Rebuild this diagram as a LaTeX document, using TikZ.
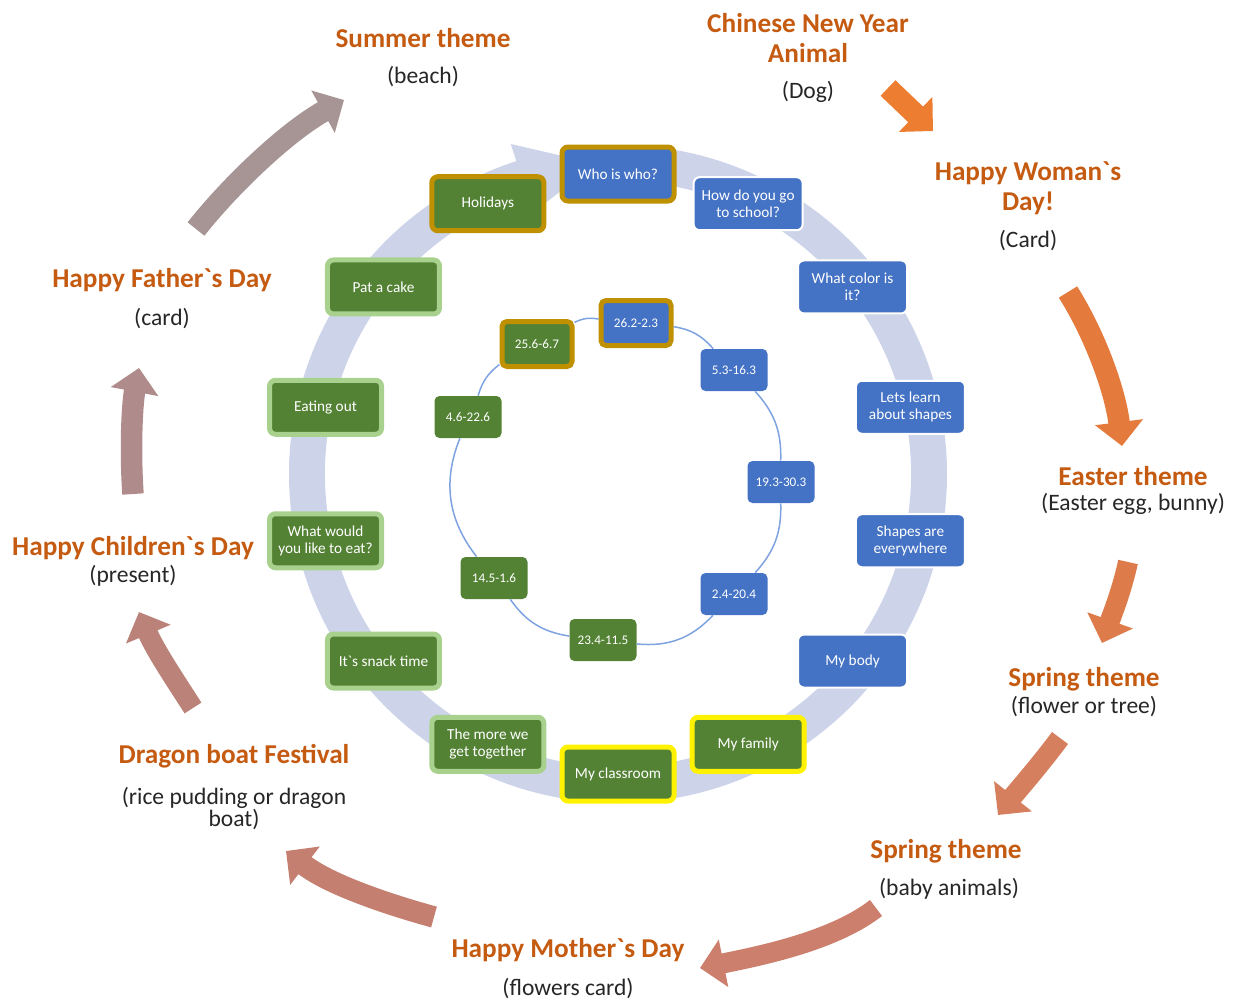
\documentclass[tikz,border=0pt]{standalone}
\usepackage{fontspec}
\setmainfont{Carlito}[Ligatures=TeXOff]
\usetikzlibrary{arrows.meta}

\definecolor{boxblue}{HTML}{4472C4}
\definecolor{boxgreen}{HTML}{548235}
\definecolor{gold}{HTML}{BF9000}
\definecolor{palerim}{HTML}{A9D18E}
\definecolor{ringfill}{HTML}{CDD4EA}
\definecolor{ringline}{HTML}{7EA3E0}
\definecolor{headorange}{HTML}{C55A11}
\definecolor{subgray}{HTML}{262626}
\definecolor{toneA}{HTML}{ED7D31}
\definecolor{toneB}{HTML}{E47B3C}
\definecolor{toneC}{HTML}{DE7B4B}
\definecolor{toneD}{HTML}{D67F5E}
\definecolor{toneE}{HTML}{CC7F6C}
\definecolor{toneF}{HTML}{C47F70}
\definecolor{toneG}{HTML}{BA8279}
\definecolor{toneH}{HTML}{AF8C8B}
\definecolor{toneI}{HTML}{A79595}

\begin{document}
\begin{tikzpicture}[x=0.2mm,y=-0.2mm,
    box/.style={rounded corners=1.2mm, minimum width=21.8mm, minimum height=10.6mm,
        inner sep=1pt, align=center, text=white, font=\fontsize{8.7}{9.8}\selectfont},
    plainblue/.style={box, fill=boxblue, draw=white, line width=0.4mm},
    goldblue/.style={box, fill=boxblue, draw=gold, line width=1mm,
        minimum width=22.4mm, minimum height=10.8mm},
    goldgreen/.style={goldblue, fill=boxgreen},
    palegreen/.style={goldgreen, draw=palerim},
    yellowgreen/.style={goldgreen, draw=yellow},
    small/.style={rounded corners=1mm, minimum width=13.4mm, minimum height=8.4mm,
        inner sep=1pt, text=white, font=\fontsize{7.5}{8}\selectfont},
    sblue/.style={small, fill=boxblue},
    sgreen/.style={small, fill=boxgreen},
    sgoldblue/.style={sblue, draw=gold, line width=1mm, minimum width=14mm, minimum height=9mm},
    sgoldgreen/.style={sgoldblue, fill=boxgreen},
    hd/.style={text=headorange, font=\bfseries\fontsize{15.5}{17}\selectfont, align=center, inner sep=0pt},
    sb/.style={text=subgray, font=\fontsize{13.4}{14.2}\selectfont, align=center, inner sep=0pt},
    cyc/.style={line width=4.3mm, -{Triangle[length=4.8mm,width=9.4mm]}}]

\useasboundingbox (0,0) rectangle (1235,1000);

% big circular arrow
\begin{scope}[shift={(618,474)}]
\fill[ringfill] (-90:329) arc[start angle=-90, end angle=252, radius=329] -- (252:347) -- (266:311)
    -- (252:275) -- (252:293) arc[start angle=252, end angle=-90, radius=293] -- cycle;
\end{scope}

% outer topics
\foreach \k/\sty/\txt in {0/goldblue/{Who is who?}, 1/plainblue/{How do you go\\to school?},
        2/plainblue/{What color is\\it?}, 3/plainblue/{Lets learn\\about shapes},
        4/plainblue/{Shapes are\\everywhere}, 5/plainblue/{My body},
        6/yellowgreen/{My family}, 7/yellowgreen/{My classroom},
        8/palegreen/{The more we\\get together}, 9/palegreen/{It`s snack time},
        10/palegreen/{What would\\you like to eat?}, 11/palegreen/{Eating out},
        12/palegreen/{Pat a cake}, 13/goldgreen/{Holidays}}{
    \pgfmathsetmacro\ang{-90 + \k*360/14};
    \node[\sty] (o\k) at ([shift={(\ang:300)}] 618,474) {\txt};
}

% inner dates
\foreach \n/\sty/\x/\y/\txt in {1/sgoldblue/636/323/26.2-2.3, 2/sblue/734/370/5.3-16.3,
        3/sblue/781/482/19.3-30.3, 4/sblue/734/594/2.4-20.4, 5/sgreen/603/640/23.4-11.5,
        6/sgreen/494/578/14.5-1.6, 7/sgreen/468/417/4.6-22.6, 8/sgoldgreen/537/344/25.6-6.7}
    \node[\sty] (i\n) at (\x,\y) {\txt};

\foreach \a/\b/\bnd in {1/2/20, 2/3/22, 3/4/22, 4/5/26, 5/6/23, 6/7/30, 7/8/18, 8/1/18}
    \draw[ringline, line width=0.3mm] (i\a) to[bend left=\bnd] (i\b);

% themes around
\node[hd] (summer) at (423,38) {Summer theme};
\node[sb] (summersub) at (423,77) {(beach)};
\node[hd] (cny) at (808,38) {Chinese New Year\\Animal};
\node[sb] (cnysub) at (808,92) {(Dog)};
\node[hd] (woman) at (1028,188) {Happy Woman`s\\Day!};
\node[sb] (womansub) at (1028,241) {(Card)};
\node[hd] (easter) at (1133,476) {Easter theme};
\node[sb] (eastersub) at (1133,504) {(Easter egg, bunny)};
\node[hd] (spring) at (1084,679) {Spring theme};
\node[sb] (springsub) at (1084,707) {(flower or tree)};
\node[hd] (baby) at (946,851) {Spring theme};
\node[sb] (babysub) at (949,889) {(baby animals)};
\node[hd] (mother) at (568,950) {Happy Mother`s Day};
\node[sb] (mothersub) at (568,989) {(flowers card)};
\node[hd] (dragon) at (234,756) {Dragon boat Festival};
\node[sb, font=\fontsize{13.4}{12.5}\selectfont] (dragonsub) at (234,809) {(rice pudding or dragon\\boat)};
\node[hd] (children) at (133,548) {Happy Children`s Day};
\node[sb] (childrensub) at (133,576) {(present)};
\node[hd] (father) at (162,280) {Happy Father`s Day};
\node[sb] (fathersub) at (162,319) {(card)};

% arrows between themes
\coordinate (a1s) at (888,88);   \coordinate (a1e) at (933,131);
\coordinate (a2s) at (1068,292); \coordinate (a2e) at (1122,446);
\coordinate (a3s) at (1128,562); \coordinate (a3e) at (1102,643);
\coordinate (a4s) at (1060,738); \coordinate (a4e) at (998,815);
\coordinate (a5s) at (876,908);  \coordinate (a5e) at (700,968);
\coordinate (a6s) at (434,917);  \coordinate (a6e) at (286,851);
\coordinate (a7s) at (193,708);  \coordinate (a7e) at (139,612);
\coordinate (a8s) at (133,494);  \coordinate (a8e) at (139,368);
\coordinate (a9s) at (196,229);  \coordinate (a9e) at (344,100);

\draw[cyc, toneA] (a1s) -- (a1e);
\draw[cyc, toneB] (a2s) .. controls (1095,335) and (1115,390) .. (a2e);
\draw[cyc, toneC, line width=4mm] (a3s) .. controls (1122,590) and (1112,615) .. (a3e);
\draw[cyc, toneD, line width=4mm] (a4s) .. controls (1040,765) and (1018,790) .. (a4e);
\draw[cyc, toneE, line width=4mm] (a5s) .. controls (835,940) and (765,955) .. (a5e);
\draw[cyc, toneF] (a6s) .. controls (390,905) and (330,885) .. (a6e);
\draw[cyc, toneG, line width=4mm] (a7s) .. controls (175,680) and (155,650) .. (a7e);
\draw[cyc, toneH] (a8s) .. controls (130,450) and (132,405) .. (a8e);
\draw[cyc, toneI] (a9s) .. controls (235,180) and (290,130) .. (a9e);

\end{tikzpicture}
\end{document}
